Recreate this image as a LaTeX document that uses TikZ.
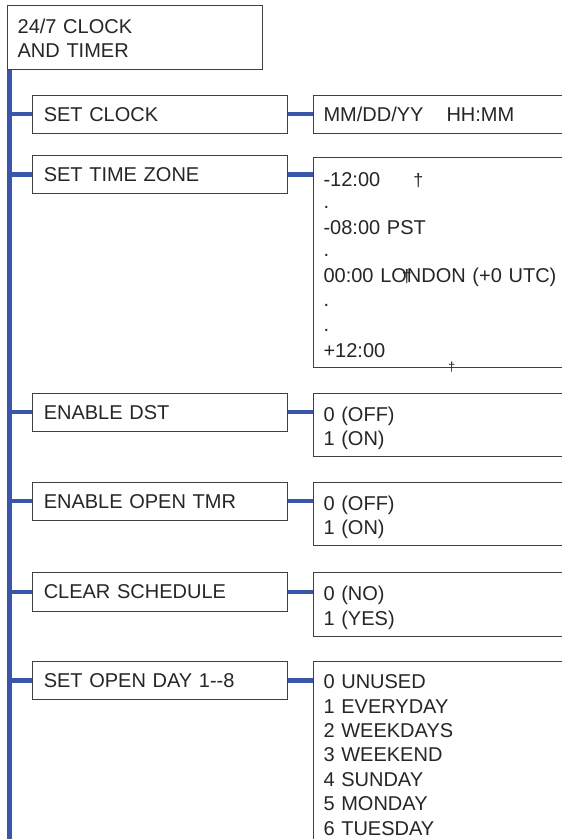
\documentclass[tikz,border=0pt]{standalone}
\usepackage{fontspec}
\setmainfont{Liberation Sans}
\usetikzlibrary{backgrounds}
\definecolor{busblue}{RGB}{58,86,168}

\begin{document}
\begin{tikzpicture}[x=1pt, y=-1pt,
    every node/.style={font=\fontsize{20}{24.4}\selectfont, text=black!85},
    menubox/.style={draw=black!75, line width=0.9pt, anchor=north west,
                    align=left, inner xsep=11pt, inner ysep=0pt,
                    text width=232.5pt, text height=26.2pt, text depth=12pt},
    valbox/.style={draw=black!75, line width=0.9pt, anchor=north west,
                   align=left, inner xsep=10.5pt, inner ysep=0pt,
                   text width=260pt, text height=28pt, text depth=35.3pt},
    bus/.style={busblue, line width=4.4pt},
    dagger/.style={font=\fontsize{18}{20}\selectfont, anchor=base}]
  \useasboundingbox (0,0) rectangle (562,839);
  % title
  \node[menubox, inner xsep=10pt, text width=234.4pt, text height=28pt,
        text depth=35.7pt, font=\fontsize{20}{24}\selectfont]
       (top) at (7.2,5.3) {24/7 CLOCK\\AND TIMER};
  % menu entries
  \node[menubox] (clk) at (32.3,94.5)  {SET CLOCK};
  \node[menubox] (tz)  at (32.3,155)   {SET TIME ZONE};
  \node[menubox] (dst) at (32.3,392.7) {ENABLE DST};
  \node[menubox] (tmr) at (32.3,481.7) {ENABLE OPEN TMR};
  \node[menubox] (clr) at (32.3,572.3) {CLEAR SCHEDULE};
  \node[menubox] (day) at (32.3,661)   {SET OPEN DAY 1-{}-8};
  % values
  \node[valbox, text height=26.2pt, text depth=12pt]
       (clkval) at (312.6,94.5) {MM/DD/YY\hspace{23pt}HH:MM};
  \node[valbox, text height=28.7pt, text depth=181pt]
       (tzval) at (312.6,157)
       {-12:00\\[-1.6pt].\\[1.4pt]-08:00 PST\\[-2.2pt].\\[1.4pt]00:00 LONDON (+0 UTC)\\[-0.7pt].\\[0.6pt].\\[2.1pt]+12:00};
  \node[valbox] (dstval) at (312.6,392.7) {0 (OFF)\\1 (ON)};
  \node[valbox] (tmrval) at (312.6,481.7) {0 (OFF)\\1 (ON)};
  \node[valbox] (clrval) at (312.6,572.3) {0 (NO)\\1 (YES)};
  \node[valbox, text height=27.3pt, text depth=200pt]
       (dayval) at (312.6,661)
       {0 UNUSED\\1 EVERYDAY\\2 WEEKDAYS\\3 WEEKEND\\4 SUNDAY\\5 MONDAY\\6 TUESDAY};
  % stray marks
  \node[dagger] (dgtop) at (418.5,186) {†};
  \node[dagger] (dgmid) at (407,282.5) {†};
  \node[dagger, font=\fontsize{13}{15}\selectfont] (dgbot) at (451.7,371) {†};
  % blue tree lines
  \begin{scope}[on background layer]
    \fill[white] (0,0) rectangle (562,839);
    \coordinate[xshift=2.3pt] (bustop) at (top.south west);
    \coordinate (busend) at (9.5,845);
    \draw[bus] (bustop) -- (busend);
    \foreach \m/\v in {clk/clkval, tz/tzval, dst/dstval, tmr/tmrval,
                       clr/clrval, day/dayval}{
      \draw[bus] (\m.west -| bustop) -- (\m.west);
      \draw[bus] (\m.east) -- (\m.east -| \v.west);
    }
  \end{scope}
\end{tikzpicture}
\end{document}
